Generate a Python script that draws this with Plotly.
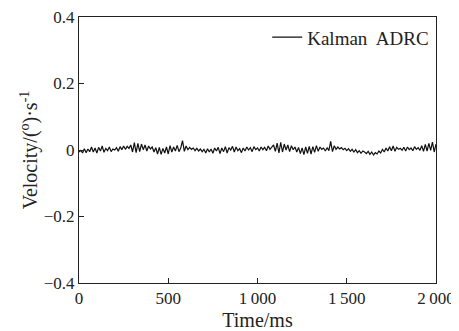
import plotly.graph_objects as go

# time samples (ms), one every 10 ms
time_ms = list(range(0, 2001, 10))

velocity = [
    -0.006, -0.001, -0.009, 0.004, -0.008, 0.003, -0.005, 0.009, -0.006, 0.006,
    -0.009, 0.008, -0.003, 0.012, -0.007, 0.005, -0.002, 0.009, -0.005, 0.003,
    0.000, 0.007, -0.004, 0.010, 0.001, 0.012, 0.002, 0.011, 0.005, 0.015,
    -0.006, 0.022, -0.008, 0.020, -0.005, 0.018, 0.001, 0.015, -0.003, 0.012,
    0.003, 0.009, -0.006, 0.007, -0.012, 0.008, -0.013, 0.005, -0.009, 0.009,
    -0.012, 0.013, -0.006, 0.009, -0.003, 0.014, -0.005, 0.006, 0.028, -0.004,
    0.012, 0.001, 0.008, 0.002, 0.006, -0.002, 0.005, -0.003, 0.003, -0.005,
    0.002, -0.009, 0.004, -0.006, 0.003, -0.010, 0.006, -0.003, 0.008, -0.011,
    0.006, -0.005, 0.010, -0.009, 0.007, 0.000, 0.011, -0.006, 0.009, -0.002,
    0.004, -0.008, 0.006, -0.003, 0.009, 0.000, 0.007, -0.005, 0.010, 0.001,
    0.006, -0.003, 0.009, 0.001, 0.008, -0.002, 0.012, 0.002, 0.009, 0.015,
    -0.004, 0.021, -0.009, 0.023, -0.006, 0.018, 0.000, 0.015, -0.005, 0.013,
    0.001, 0.009, -0.006, 0.008, -0.011, 0.006, -0.014, 0.009, -0.010, 0.011,
    -0.012, 0.010, -0.007, 0.013, -0.004, 0.009, 0.002, 0.006, -0.003, 0.007,
    -0.002, 0.026, -0.005, 0.013, 0.002, 0.009, 0.003, 0.007, 0.001, 0.005,
    -0.002, 0.004, -0.004, 0.002, -0.006, 0.001, -0.008, -0.002, -0.010, -0.003,
    -0.006, -0.011, -0.004, -0.013, -0.006, -0.015, -0.008, -0.012, -0.003, -0.009,
    0.002, -0.006, 0.006, -0.003, 0.010, -0.002, 0.012, -0.004, 0.008, 0.002,
    0.005, -0.001, 0.008, -0.003, 0.009, 0.001, 0.006, -0.002, 0.010, 0.002,
    0.007, -0.001, 0.013, -0.004, 0.017, -0.003, 0.020, -0.001, 0.024, -0.006,
    0.018,
]

x_tickvals = [0, 500, 1000, 1500, 2000]
x_ticktext = ["0", "500", "1\u2009000", "1\u2009500", "2\u2009000"]
y_tickvals = [-0.4, -0.2, 0, 0.2, 0.4]
y_ticktext = ["\u22120.4", "\u22120.2", "0", "0.2", "0.4"]

FONT = "Liberation Serif, Times New Roman, serif"

fig = go.Figure()
fig.add_trace(go.Scatter(
    x=time_ms, y=velocity, mode="lines", name="Kalman  ADRC",
    line=dict(color="#111111", width=1.2),
))

# the page body adds an 8 px offset, so the figure is sized to the visible area
fig.update_layout(
    width=451, height=323,
    margin=dict(l=71, r=23, t=9, b=48),
    paper_bgcolor="white", plot_bgcolor="white",
    font=dict(family=FONT, size=17, color="#222"),
    showlegend=True,
    legend=dict(x=0.995, y=0.995, xanchor="right", yanchor="top",
                bgcolor="rgba(0,0,0,0)", font=dict(size=19),
                itemwidth=30),
)
fig.update_xaxes(
    range=[0, 2000], tickvals=x_tickvals, ticktext=x_ticktext,
    ticks="inside", ticklen=5, tickcolor="#222",
    showline=True, linecolor="#222", linewidth=1, mirror=True,
    showgrid=False, zeroline=False, automargin=False,
    ticklabeloverflow="allow",
    title=dict(text="Time/ms", standoff=6),
)
fig.update_yaxes(
    range=[-0.4, 0.4], tickvals=y_tickvals, ticktext=y_ticktext,
    ticks="inside", ticklen=5, tickcolor="#222",
    showline=True, linecolor="#222", linewidth=1, mirror=True,
    showgrid=False, zeroline=False, automargin=False,
    ticklabeloverflow="allow",
    title=dict(text="Velocity/(<sup>o</sup>)·s<sup>-1</sup>", standoff=0),
)

fig.write_html("out.html")
